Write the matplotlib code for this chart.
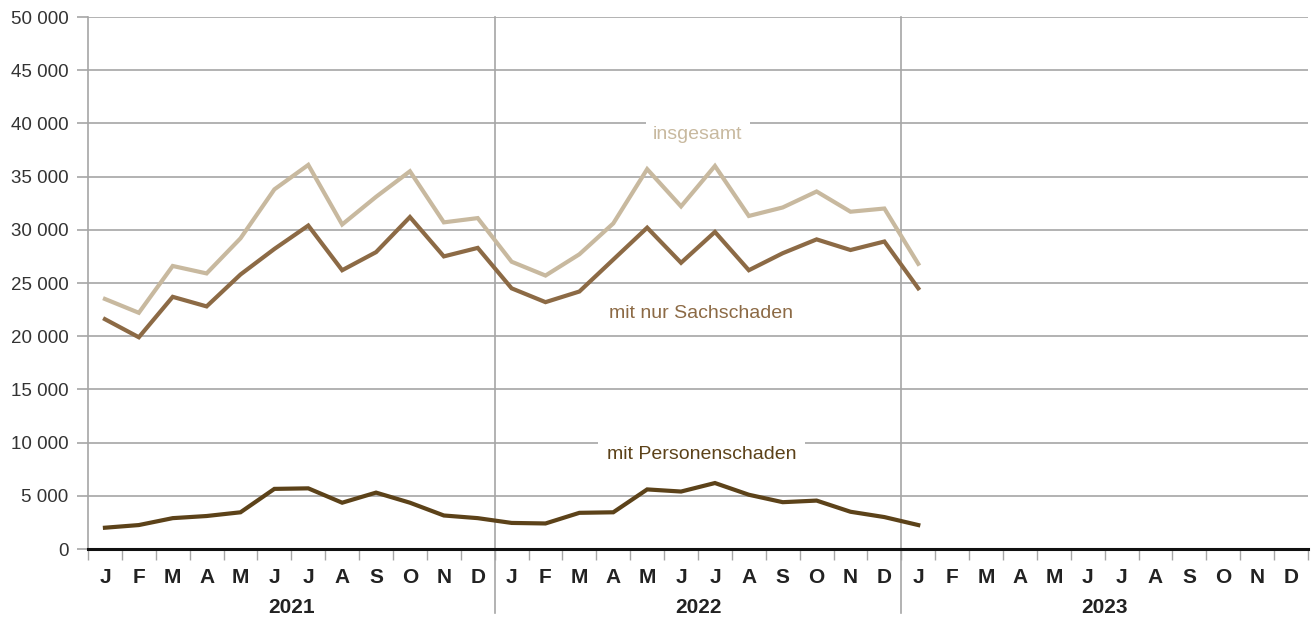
import matplotlib.pyplot as plt
from matplotlib.ticker import FuncFormatter
import matplotlib.transforms as mtransforms

months = ["J", "F", "M", "A", "M", "J", "J", "A", "S", "O", "N", "D"] * 3
years = ["2021", "2022", "2023"]

# values in accidents per month, Jan 2021 .. Jan 2023
insgesamt = [23500, 22200, 26600, 25900, 29200, 33800, 36100, 30500, 33100, 35500, 30700, 31100,
             27000, 25700, 27700, 30600, 35700, 32200, 36000, 31300, 32100, 33600, 31700, 32000,
             26800]
sachschaden = [21600, 19900, 23700, 22800, 25800, 28200, 30400, 26200, 27900, 31200, 27500, 28300,
               24500, 23200, 24200, 27200, 30200, 26900, 29800, 26200, 27800, 29100, 28100, 28900,
               24500]
personenschaden = [2000, 2250, 2900, 3100, 3450, 5650, 5700, 4350, 5300, 4350, 3150, 2900,
                   2450, 2400, 3400, 3450, 5600, 5400, 6200, 5100, 4400, 4550, 3500, 3000,
                   2250]

c_total = "#c8b99f"
c_sach = "#8c6a45"
c_pers = "#5c4219"
c_grid = "#a6a6a6"
c_text = "#222222"

plt.rcParams['font.family'] = ['Liberation Sans', 'DejaVu Sans']

fig = plt.figure(figsize=(13.14, 6.19), dpi=100)
ax = fig.add_axes([88 / 1314, 1 - 549 / 619, 1220 / 1314, 532 / 619])

x = list(range(len(insgesamt)))
ax.plot(x, insgesamt, color=c_total, lw=3, solid_joinstyle='miter', zorder=3)
ax.plot(x, sachschaden, color=c_sach, lw=3, solid_joinstyle='miter', zorder=3)
ax.plot(x, personenschaden, color=c_pers, lw=3, solid_joinstyle='miter', zorder=3)

ax.set_xlim(-0.5, 35.5)
ax.set_ylim(0, 50000)

# y axis
ax.set_yticks(range(0, 50001, 5000))
ax.yaxis.set_major_formatter(FuncFormatter(lambda v, p: f"{int(v):,}".replace(",", " ")))
ax.tick_params(axis='y', length=8, width=1.2, color=c_grid, labelsize=13.5,
               labelcolor="#333333", pad=6)
ax.grid(axis='y', color=c_grid, lw=1.2, zorder=1)

# x axis: month boundaries as major ticks, labels at centres
ax.set_xticks([i - 0.5 for i in range(37)])
ax.set_xticklabels([])
ax.tick_params(axis='x', which='major', length=8, width=1, color=c_grid)
ax.set_xticks(x + list(range(len(x), 36)), minor=True)
ax.set_xticklabels(months, minor=True, fontweight='bold', fontsize=15, color=c_text)
ax.tick_params(axis='x', which='minor', length=0, pad=14)

for side in ['top', 'right']:
    ax.spines[side].set_visible(False)
ax.spines['left'].set_color(c_grid)
ax.spines['left'].set_linewidth(1.2)
ax.spines['bottom'].set_color("#111111")
ax.spines['bottom'].set_linewidth(2.2)
ax.spines['bottom'].set_zorder(4)

# year dividers and year labels
trans = mtransforms.blended_transform_factory(ax.transData, ax.transAxes)
for b in [11.5, 23.5]:
    ax.plot([b, b], [-0.12, 1.0], transform=trans, color=c_grid, lw=1.2,
            clip_on=False, zorder=2)
for k, yr in enumerate(years):
    ax.text(k * 12 + 5.5, -0.11, yr, transform=trans, ha='center', va='center',
            fontweight='bold', fontsize=15, color=c_text)

# series labels
box = dict(facecolor='white', edgecolor='none', pad=5)
ax.text(17.5, 39000, "insgesamt", color=c_total, fontsize=14, ha='center',
        va='center', bbox=box, zorder=3)
ax.text(17.6, 22100, "mit nur Sachschaden", color=c_sach, fontsize=14, ha='center',
        va='center', zorder=3)
ax.text(17.6, 8900, "mit Personenschaden", color=c_pers, fontsize=14, ha='center',
        va='center', bbox=dict(facecolor='white', edgecolor='none', pad=6), zorder=3)

fig.savefig("out.png", dpi=100)
